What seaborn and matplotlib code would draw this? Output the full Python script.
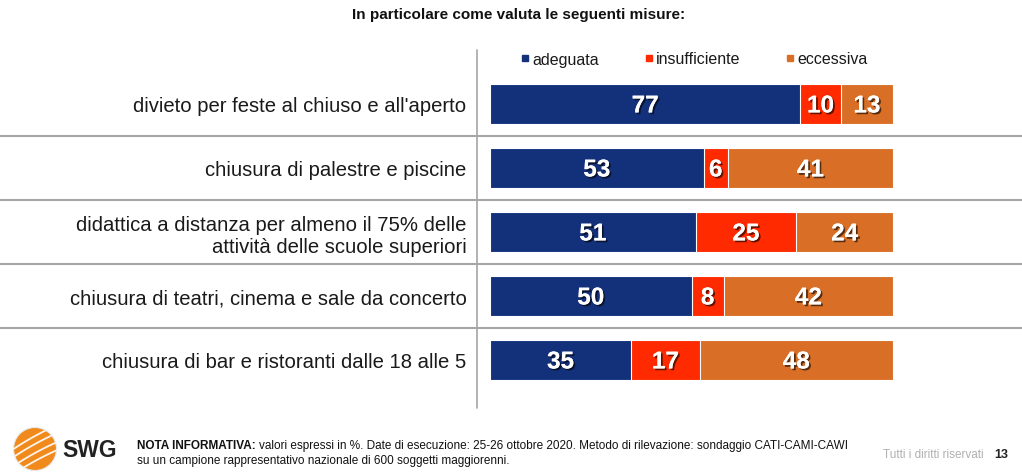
import matplotlib
matplotlib.use("Agg")
import matplotlib.pyplot as plt
import matplotlib.patheffects as pe
import matplotlib.transforms as mtrans
from matplotlib.lines import Line2D
from matplotlib.patches import Circle
import seaborn as sns
import pandas as pd
import numpy as np

categories = [
    "divieto per feste al chiuso e all'aperto",
    "chiusura di palestre e piscine",
    "didattica a distanza per almeno il 75% delle\nattività delle scuole superiori",
    "chiusura di teatri, cinema e sale da concerto",
    "chiusura di bar e ristoranti dalle 18 alle 5",
]
adeguata = [77, 53, 51, 50, 35]
insufficiente = [10, 6, 25, 8, 17]
eccessiva = [13, 41, 24, 42, 48]
series_names = ["adeguata", "insufficiente", "eccessiva"]
colors = ["#13317A", "#FF2A00", "#D96F26"]

sns.set_theme(style="white")
plt.rcParams['font.family'] = ['Liberation Sans', 'DejaVu Sans']

W, H = 1022, 477
fig = plt.figure(figsize=(W / 100, H / 100), dpi=100)
ax = fig.add_axes([490 / W, 1 - 409 / H, (893 - 490) / W, (409 - 50.6) / H])

df = pd.DataFrame({"cat": categories, "adeguata": adeguata,
                   "insufficiente": insufficiente, "eccessiva": eccessiva})
df["c1"] = df["adeguata"]
df["c2"] = df["adeguata"] + df["insufficiente"]
df["c3"] = df["c2"] + df["eccessiva"]

for col, c in zip(["c3", "c2", "c1"], colors[::-1]):
    sns.barplot(data=df, x=col, y="cat", order=categories, orient="h",
                color=c, width=0.64, edgecolor="white", linewidth=0.8,
                saturation=1, ax=ax)

ax.set_xlim(0, 100)
ax.set_ylim(4.75, -0.85)
ax.set_xlabel("")
ax.set_ylabel("")
ax.set_xticks([])
for s in ax.spines.values():
    s.set_visible(False)
ax.tick_params(axis="y", length=0, pad=17, labelsize=14.6, labelcolor="#1a1a1a")

shadow = [pe.withSimplePatchShadow(offset=(1.3, -1.3), shadow_rgbFace="#000000", alpha=0.6),
          pe.Normal()]
for i in range(len(categories)):
    starts = [0, df["c1"][i], df["c2"][i]]
    vals = [adeguata[i], insufficiente[i], eccessiva[i]]
    for s0, v in zip(starts, vals):
        ax.text(s0 + v / 2, i + 0.03, f"{v}", ha="center", va="center", color="white",
                fontsize=17.5, fontweight="bold", path_effects=shadow)

# separators and vertical line
bt = mtrans.blended_transform_factory(fig.transFigure, ax.transData)
for yy in [0.5, 1.5, 2.5, 3.5]:
    ax.add_line(Line2D([0, 1], [yy, yy], transform=bt, color="#A6A6A6",
                       linewidth=1.5, clip_on=False))
vt = mtrans.blended_transform_factory(fig.transFigure, ax.transAxes)
ax.add_line(Line2D([477 / W, 477 / W], [0, 1], transform=vt, color="#A6A6A6",
                   linewidth=1.2, clip_on=False))

# legend
handles = [Line2D([], [], marker="s", linestyle="", markersize=5,
                  markerfacecolor=c, markeredgecolor=c) for c in colors]
leg = ax.legend(handles, series_names, ncol=3, loc="center",
                bbox_to_anchor=(694 / W, 1 - 60 / H), bbox_transform=fig.transFigure,
                frameon=False, fontsize=11.5, handlelength=0.6, handletextpad=0.15,
                columnspacing=2.8, borderaxespad=0)
for t in leg.get_texts():
    t.set_color("#1a1a1a")

# title
fig.text(519 / W, 1 - 15 / H, "In particolare come valuta le seguenti misure:",
         ha="center", va="center", fontsize=11, fontweight="bold", color="#111111")

# footer logo
cx, cy = 35 / W * 10.22, (1 - 450 / H) * 4.77
logo = Circle((cx, cy), 0.215, transform=fig.dpi_scale_trans,
              facecolor="#F08A1C", edgecolor="#E8E8E8", linewidth=0.8)
fig.patches.append(logo)
for off in [-0.12, -0.04, 0.05, 0.13]:
    xs = np.linspace(-0.3, 0.3, 30)
    ys = 0.55 * xs + off - 0.25 * xs ** 2
    ln = Line2D(cx + xs, cy + ys, transform=fig.dpi_scale_trans, color="white",
                linewidth=1.3, alpha=0.9)
    ln.set_clip_path(logo)
    fig.lines.append(ln)
fig.text(62 / W, 1 - 451 / H, "SWG", ha="left", va="center", fontsize=16.5,
         fontweight="bold", color="#222222")

fs = 8.5
t1 = fig.text(137 / W, 1 - 446 / H, "NOTA INFORMATIVA:", ha="left", va="center",
              fontsize=fs, fontweight="bold", color="#111111")
renderer = fig.canvas.get_renderer()
bb = t1.get_window_extent(renderer=renderer)
fig.text((bb.x1 + 3) / W, 1 - 446 / H,
         "valori espressi in %. Date di esecuzione: 25-26 ottobre 2020. Metodo di rilevazione: sondaggio CATI-CAMI-CAWI",
         ha="left", va="center", fontsize=fs, color="#111111")
fig.text(137 / W, 1 - 461 / H,
         "su un campione rappresentativo nazionale di 600 soggetti maggiorenni.",
         ha="left", va="center", fontsize=fs, color="#111111")
fig.text(984 / W, 1 - 455 / H, "Tutti i diritti riservati", ha="right", va="center",
         fontsize=8.5, color="#B0B0B0")
fig.text(1008 / W, 1 - 455 / H, "13", ha="right", va="center",
         fontsize=9, fontweight="bold", color="#222222")

fig.savefig("out.png", dpi=100, facecolor="white")
